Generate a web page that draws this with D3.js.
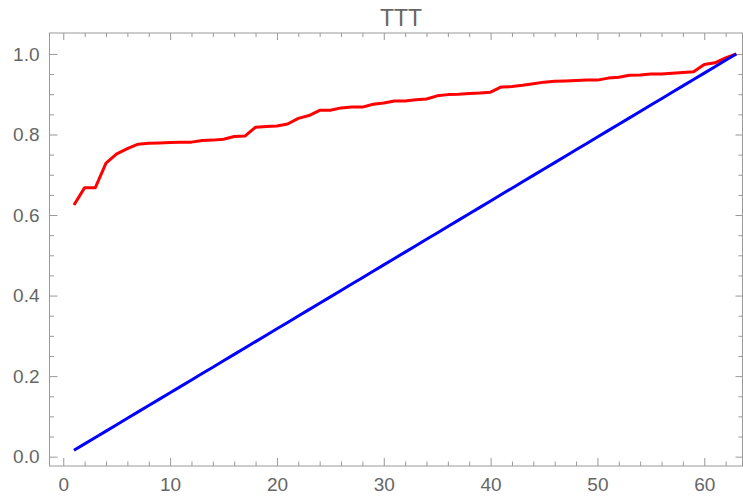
<!DOCTYPE html>
<html>
<head>
<meta charset="utf-8">
<script src="https://cdn.jsdelivr.net/npm/d3@7"></script>
<style>
  body { margin: 0; background: #fff; }
  .chart text { font-family: 'Liberation Sans', Arial, sans-serif; fill: #666; }
</style>
</head>
<body>
<div class="chart"></div>
<script>
const title = 'TTT'

const xIndex = [1, 2, 3, 4, 5, 6, 7, 8, 9, 10, 11, 12, 13, 14, 15, 16, 17, 18, 19, 20,
  21, 22, 23, 24, 25, 26, 27, 28, 29, 30, 31, 32, 33, 34, 35, 36, 37, 38, 39, 40,
  41, 42, 43, 44, 45, 46, 47, 48, 49, 50, 51, 52, 53, 54, 55, 56, 57, 58, 59, 60,
  61, 62, 63]

const redValues = [0.625, 0.668, 0.668, 0.729, 0.752, 0.765, 0.776, 0.778, 0.779, 0.780,
  0.781, 0.781, 0.785, 0.786, 0.788, 0.795, 0.796, 0.818, 0.820, 0.821,
  0.826, 0.840, 0.847, 0.860, 0.860, 0.866, 0.868, 0.868, 0.875, 0.878,
  0.883, 0.883, 0.886, 0.888, 0.896, 0.899, 0.900, 0.902, 0.903, 0.905,
  0.918, 0.919, 0.922, 0.926, 0.930, 0.932, 0.933, 0.934, 0.935, 0.935,
  0.940, 0.942, 0.947, 0.948, 0.950, 0.950, 0.952, 0.954, 0.956, 0.974,
  0.978, 0.990, 1.000]

const blueValues = [0.01587, 0.03175, 0.04762, 0.06349, 0.07937, 0.09524, 0.11111, 0.12698, 0.14286, 0.15873,
  0.17460, 0.19048, 0.20635, 0.22222, 0.23810, 0.25397, 0.26984, 0.28571, 0.30159, 0.31746,
  0.33333, 0.34921, 0.36508, 0.38095, 0.39683, 0.41270, 0.42857, 0.44444, 0.46032, 0.47619,
  0.49206, 0.50794, 0.52381, 0.53968, 0.55556, 0.57143, 0.58730, 0.60317, 0.61905, 0.63492,
  0.65079, 0.66667, 0.68254, 0.69841, 0.71429, 0.73016, 0.74603, 0.76190, 0.77778, 0.79365,
  0.80952, 0.82540, 0.84127, 0.85714, 0.87302, 0.88889, 0.90476, 0.92063, 0.93651, 0.95238,
  0.96825, 0.98413, 1.00000]

const xMajor = [0, 10, 20, 30, 40, 50, 60]
const xMinor = [2, 4, 6, 8, 12, 14, 16, 18, 22, 24, 26, 28, 32, 34, 36, 38, 42, 44, 46, 48, 52, 54, 56, 58, 62]
const yMajor = [0, 0.2, 0.4, 0.6, 0.8, 1.0]
const yMinor = [0.05, 0.1, 0.15, 0.25, 0.3, 0.35, 0.45, 0.5, 0.55, 0.65, 0.7, 0.75, 0.85, 0.9, 0.95]

const drawChart = () => {
  const W = 743
  const H = 500
  const left = 49.5
  const right = 742.5
  const top = 33
  const bottom = 466

  const x = d3.scaleLinear().domain([-1.29, 63.58]).range([left, right])
  const y = d3.scaleLinear().domain([-0.0232, 1.052]).range([bottom, top])

  const svg = d3.select('.chart')
    .append('svg')
      .attr('width', W)
      .attr('height', H)

  const fmtY = d3.format('.1f')

  const axis = (gen, transform) => {
    const g = svg.append('g')
      .attr('transform', transform)
      .call(gen)
    g.select('.domain').remove()
    g.selectAll('line').attr('stroke', '#999').attr('stroke-width', 1)
    g.selectAll('text').style('font-size', '19px')
    return g
  }

  // bottom / top
  axis(d3.axisBottom(x).tickValues(xMajor).tickSizeInner(-8).tickSizeOuter(0).tickPadding(12), `translate(0,${bottom})`)
  axis(d3.axisBottom(x).tickValues(xMinor).tickFormat('').tickSizeInner(-4.5).tickSizeOuter(0), `translate(0,${bottom})`)
  axis(d3.axisTop(x).tickValues(xMajor).tickFormat('').tickSizeInner(-7).tickSizeOuter(0), `translate(0,${top})`)
  axis(d3.axisTop(x).tickValues(xMinor).tickFormat('').tickSizeInner(-4).tickSizeOuter(0), `translate(0,${top})`)

  // left / right
  axis(d3.axisLeft(y).tickValues(yMajor).tickFormat(fmtY).tickSizeInner(-8).tickSizeOuter(0).tickPadding(10), `translate(${left},0)`)
  axis(d3.axisLeft(y).tickValues(yMinor).tickFormat('').tickSizeInner(-4.5).tickSizeOuter(0), `translate(${left},0)`)
  axis(d3.axisRight(y).tickValues(yMajor).tickFormat('').tickSizeInner(-7).tickSizeOuter(0), `translate(${right},0)`)
  axis(d3.axisRight(y).tickValues(yMinor).tickFormat('').tickSizeInner(-4).tickSizeOuter(0), `translate(${right},0)`)

  svg.append('rect')
    .attr('x', left)
    .attr('y', top)
    .attr('width', right - left)
    .attr('height', bottom - top)
    .attr('fill', 'none')
    .attr('stroke', '#999')
    .attr('stroke-width', 1)

  const line = d3.line()
    .x((d) => x(d[0]))
    .y((d) => y(d[1]))

  const series = [
    {values: redValues, color: '#ff0000'},
    {values: blueValues, color: '#0000ff'},
  ]

  svg.selectAll('path.series')
      .data(series)
    .enter().append('path')
      .attr('class', 'series')
      .attr('fill', 'none')
      .attr('stroke', (d) => d.color)
      .attr('stroke-width', 3)
      .attr('stroke-linejoin', 'round')
      .attr('d', (d) => line(d.values.map((v, i) => [xIndex[i], v])))

  svg.append('text')
    .attr('x', 401)
    .attr('y', 26)
    .attr('text-anchor', 'middle')
    .style('font-size', '23px')
    .text(title)
}

drawChart()
</script>
</body>
</html>
